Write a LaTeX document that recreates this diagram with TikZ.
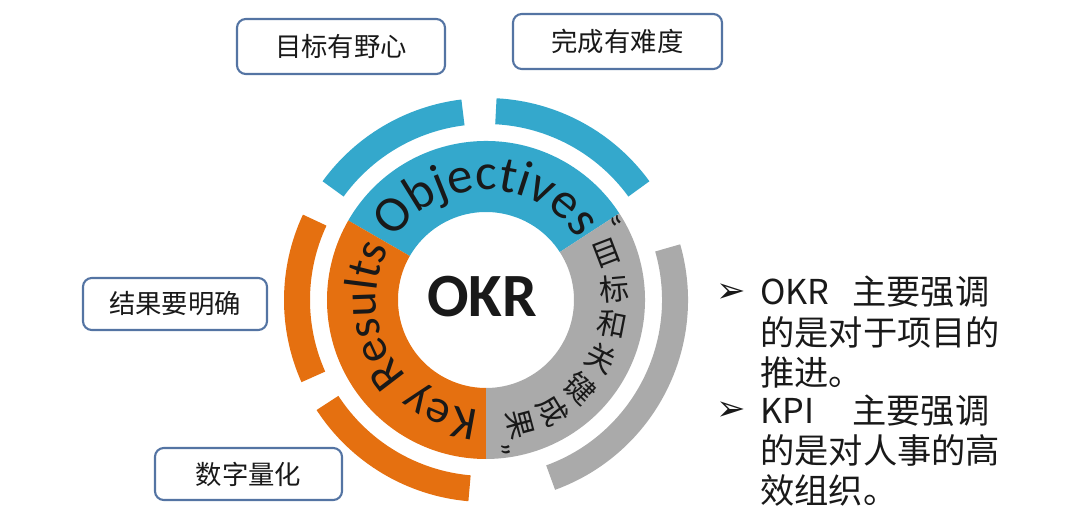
\documentclass[tikz,border=0pt]{standalone}
\usepackage{fontspec}
\setmainfont{Carlito}
\newfontfamily\cjk{Noto Sans CJK SC}
\newfontfamily\symb{DejaVu Sans}
\usepackage{tikz}
\usetikzlibrary{positioning, decorations.text}

\definecolor{okrblue}{RGB}{52,168,204}
\definecolor{okrorange}{RGB}{229,112,16}
\definecolor{okrgray}{RGB}{170,170,170}
\definecolor{boxline}{RGB}{84,116,163}
\definecolor{ink}{RGB}{25,25,25}

\begin{document}
\begin{tikzpicture}[
    tag/.style={draw=boxline, line width=1.2pt, rounded corners=5pt, fill=white,
                minimum height=1.1cm, text=ink, font=\cjk\fontsize{15}{18}\selectfont},
    arcchar/.style={inner sep=0pt, text=ink, font=\cjk\fontsize{17}{20}\selectfont},
    quote/.style={inner sep=0pt, text=ink, font=\fontsize{18}{18}\selectfont},
    note/.style={inner sep=0pt, anchor=north west, align=left, text=ink,
                 font=\cjk\fontsize{19.5}{22.8}\selectfont},
    bullet/.style={inner sep=0pt, text=ink, font=\symb\fontsize{20}{20}\selectfont},
]
\useasboundingbox (-9.72,-4.54) rectangle (11.88,6.0);

\foreach \c/\a/\b in {okrblue/33/150, okrorange/150/270, okrgray/270/393}
  \fill[\c] (\a:1.76) arc[start angle=\a, end angle=\b, radius=1.76]
    -- (\b:3.18) arc[start angle=\b, end angle=\a, radius=3.18] -- cycle;

\foreach \c/\a/\b in {okrblue/97/144, okrblue/36/87, okrorange/155/204,
                      okrorange/213/265, okrgray/-70/16}
  \fill[\c] (\a:3.52) arc[start angle=\a, end angle=\b, radius=3.52]
    -- (\b:4.04) arc[start angle=\b, end angle=\a, radius=4.04] -- cycle;

\node[font=\bfseries\fontsize{35}{38}\selectfont, text=ink] (okr) at (-0.08,0.06) {OKR};

\path[decorate, decoration={text along path, text align=center, text color=ink,
    text={|\fontsize{29}{31}\selectfont|Objectives}}]
  (150:2.2) arc[start angle=150, end angle=30, radius=2.2];
\path[decorate, decoration={text along path, text align=center, text color=ink,
    text={|\fontsize{27}{29}\selectfont|Key Results}}]
  (268:2.2) arc[start angle=268, end angle=150, radius=2.2];

\foreach \ch [count=\i] in {目,标,和,关,键,成,果}
  \node[arcchar, rotate={21-16*(\i-1)}] (char\i) at ({21-16*(\i-1)}:2.58) {\ch};
\node[quote, rotate=28] (lquote) at (28.6:3.02) {“};
\node[quote, rotate=-85] (rquote) at (-85:3.02) {”};

\node[tag, minimum width=4.16cm] (ambition) at (-2.90,5.07) {目标有野心};
\node[tag, minimum width=4.18cm] (difficulty) at (2.63,5.17) {完成有难度};
\node[tag, minimum width=3.68cm, minimum height=1.04cm] (clarity) at (-6.22,-0.08) {结果要明确};
\node[tag, minimum width=3.74cm, minimum height=1.04cm] (quantify) at (-4.75,-3.48) {数字量化};

\node[bullet] (okrbullet) at (4.9,0.14) {➢};
\node[note] (okrnote) at (5.48,0.48) {\makebox[1.84cm][l]{OKR}主要强调\\的是对于项目的\\推进。};
\node[bullet] (kpibullet) at (4.9,-2.22) {➢};
\node[note] (kpinote) at (5.48,-1.88) {\makebox[1.84cm][l]{KPI}主要强调\\的是对人事的高\\效组织。};

\end{tikzpicture}
\end{document}
